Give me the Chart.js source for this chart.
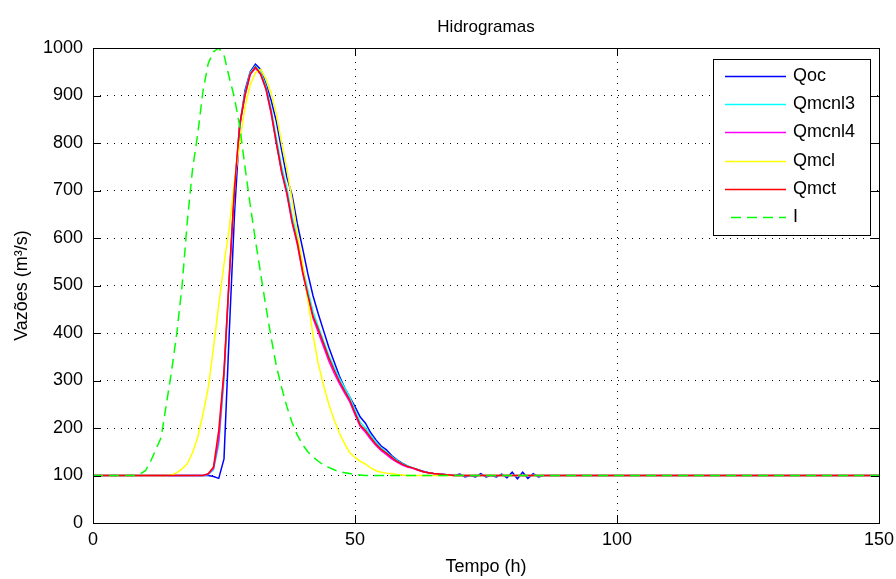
<!DOCTYPE html>
<html>
<head>
<meta charset="utf-8">
<title>Hidrogramas</title>
<script src="https://cdn.jsdelivr.net/npm/chart.js@4.4.1/dist/chart.umd.min.js"></script>
<style>
  html, body { margin: 0; padding: 0; background: #ffffff; }
  #wrap { width: 896px; height: 579px; }
</style>
</head>
<body>
<div id="wrap"><canvas id="hidro" width="896" height="579"></canvas></div>
<script>
// Tempo (h) - grade comum a todas as séries
const tempo = [0,
  8, 9, 10, 11, 12, 13, 14, 15, 16, 17,
  18, 19, 20, 21, 22, 23, 24, 25, 26, 27,
  28, 29, 30, 31, 32, 33, 34, 35, 36, 37,
  38, 39, 40, 41, 42, 43, 44, 45, 46, 47,
  48, 49, 50, 51, 52, 53, 54, 55, 56, 57,
  58, 59, 60, 61, 62, 63, 64, 65, 66, 67,
  68, 69, 70, 71, 72, 73, 74, 75, 76, 77,
  78, 79, 80, 81, 82, 83, 84, 85, 86, 87,
  88, 90, 150];

// Vazões (m³/s)
const qoc = [100,
  100, 100, 100, 100, 100, 100, 100, 100, 100, 100,
  100, 100, 100, 100, 100, 98, 94, 135, 400, 650,
  834, 910, 950, 966, 955, 925, 890, 845, 785, 728,
  690, 630, 578, 525, 478, 440, 405, 370, 340, 310,
  285, 265, 245, 223, 210, 190, 175, 162, 154, 142,
  133, 126, 120, 116, 112, 109, 106, 104, 103, 102,
  101, 100, 103, 97, 100, 97, 104, 97, 100, 97,
  103, 95, 107, 93, 107, 94, 104, 97, 100, 100,
  100, 100, 100];

const qmcnl3 = [100,
  100, 100, 100, 100, 100, 100, 100, 100, 100, 100,
  100, 100, 100, 100, 102, 112, 165, 300, 510, 700,
  840, 905, 948, 962, 950, 920, 872, 810, 750, 705,
  645, 600, 540, 490, 445, 413, 383, 353, 328, 305,
  285, 265, 238, 212, 200, 185, 170, 158, 149, 140,
  132, 125, 120, 116, 112, 108, 106, 104, 103, 102,
  101, 100, 100, 100, 100, 100, 100, 100, 100, 100,
  100, 100, 100, 100, 100, 100, 100, 100, 100, 100,
  100, 100, 100];

const qmcnl4 = [100,
  100, 100, 100, 100, 100, 100, 100, 100, 100, 100,
  100, 100, 100, 100, 103, 115, 175, 315, 515, 700,
  838, 900, 944, 958, 944, 913, 862, 798, 738, 692,
  632, 586, 527, 477, 431, 401, 371, 341, 316, 294,
  274, 255, 228, 203, 191, 176, 163, 152, 144, 135,
  128, 122, 118, 115, 111, 108, 106, 104, 103, 102,
  101, 100, 100, 100, 100, 100, 100, 100, 100, 100,
  100, 100, 100, 100, 100, 100, 100, 100, 100, 100,
  100, 100, 100];

const qmcl = [100,
  100, 100, 100, 100, 100, 100, 100, 101, 106, 114,
  125, 148, 181, 230, 285, 370, 460, 545, 620, 720,
  800, 876, 922, 948, 955, 935, 905, 860, 800, 745,
  680, 610, 545, 470, 395, 335, 290, 250, 218, 190,
  167, 148, 138, 130, 124, 116, 110, 107, 105, 104,
  102, 101, 100, 100, 100, 100, 100, 100, 100, 100,
  100, 100, 100, 100, 100, 100, 100, 100, 100, 100,
  100, 100, 100, 100, 100, 100, 100, 100, 100, 100,
  100, 100, 100];

const qmct = [100,
  100, 100, 100, 100, 100, 100, 100, 100, 100, 100,
  100, 100, 100, 100, 104, 118, 195, 320, 520, 705,
  840, 900, 945, 960, 945, 915, 865, 800, 740, 695,
  635, 590, 530, 480, 435, 408, 378, 348, 322, 299,
  278, 259, 232, 206, 195, 180, 166, 155, 147, 138,
  130, 124, 119, 116, 112, 108, 106, 104, 103, 102,
  101, 100, 100, 100, 100, 100, 100, 100, 100, 100,
  100, 100, 100, 100, 100, 100, 100, 100, 100, 100,
  100, 100, 100];

const entrada = [100,
  100, 103, 110, 130, 155, 180, 250, 320, 400, 500,
  635, 745, 820, 910, 968, 992, 1000, 985, 938, 895,
  835, 750, 670, 595, 525, 455, 390, 330, 285, 245,
  211, 185, 165, 150, 139, 130, 122, 117, 112, 108,
  106, 104, 102, 101, 100, 100, 100, 100, 100, 100,
  100, 100, 100, 100, 100, 100, 100, 100, 100, 100,
  100, 100, 100, 100, 100, 100, 100, 100, 100, 100,
  100, 100, 100, 100, 100, 100, 100, 100, 100, 100,
  100, 100, 100];

const nomes = ['Qoc', 'Qmcnl3', 'Qmcnl4', 'Qmcl', 'Qmct', 'I'];
const ticksX = [0, 50, 100, 150];
const ticksY = [0, 100, 200, 300, 400, 500, 600, 700, 800, 900, 1000];

const fonte = 'Liberation Sans, Arial, sans-serif';

// Monta os pontos {x, y} de uma série
function pontos(valores) {
  return tempo.map((t, i) => ({ x: t, y: valores[i] }));
}

// Moldura, marcas internas, título e legenda (estilo MATLAB)
const molduraPlugin = {
  id: 'moldura',
  afterDraw(chart) {
    const ctx = chart.ctx;
    const a = chart.chartArea;
    const sx = chart.scales.x;
    const sy = chart.scales.y;

    ctx.save();
    ctx.strokeStyle = '#000';
    ctx.lineWidth = 1;
    ctx.setLineDash([]);

    // marcas internas
    ctx.beginPath();
    ticksX.forEach(v => {
      const px = Math.round(sx.getPixelForValue(v)) + 0.5;
      ctx.moveTo(px, a.bottom); ctx.lineTo(px, a.bottom - 8);
      ctx.moveTo(px, a.top); ctx.lineTo(px, a.top + 8);
    });
    ticksY.forEach(v => {
      const py = Math.round(sy.getPixelForValue(v)) + 0.5;
      ctx.moveTo(a.left, py); ctx.lineTo(a.left + 8, py);
      ctx.moveTo(a.right, py); ctx.lineTo(a.right - 8, py);
    });
    ctx.stroke();

    // caixa dos eixos
    ctx.strokeRect(Math.round(a.left) + 0.5, Math.round(a.top) + 0.5,
      Math.round(a.right - a.left), Math.round(a.bottom - a.top));

    // título
    ctx.fillStyle = '#000';
    ctx.font = '17px ' + fonte;
    ctx.textAlign = 'center';
    ctx.textBaseline = 'middle';
    ctx.fillText('Hidrogramas', (a.left + a.right) / 2, 27);

    // legenda
    const lx = 713, ly = 59, lw = 157, lh = 176;
    ctx.fillStyle = '#fff';
    ctx.fillRect(lx, ly, lw, lh);
    ctx.strokeRect(lx + 0.5, ly + 0.5, lw, lh);
    ctx.font = '18px ' + fonte;
    ctx.textAlign = 'left';
    chart.data.datasets.forEach((ds, i) => {
      const y = Math.round(ly + 17 + i * 28.2) + 0.5;
      ctx.strokeStyle = ds.borderColor;
      ctx.lineWidth = 1.5;
      ctx.setLineDash(ds.borderDash || []);
      ctx.beginPath();
      ctx.moveTo(i === 5 ? 731 : 725, y);
      ctx.lineTo(786, y);
      ctx.stroke();
      ctx.fillStyle = '#000';
      ctx.fillText(ds.label, 793, y);
    });
    ctx.restore();
  }
};

const ctx = document.getElementById('hidro').getContext('2d');

const grafico = new Chart(ctx, {
  type: 'line',
  data: {
    datasets: [
      { label: nomes[0], data: pontos(qoc), borderColor: '#0000ff', order: 6 },
      { label: nomes[1], data: pontos(qmcnl3), borderColor: '#00ffff', order: 5 },
      { label: nomes[2], data: pontos(qmcnl4), borderColor: '#ff00ff', order: 4 },
      { label: nomes[3], data: pontos(qmcl), borderColor: '#ffff00', order: 3 },
      { label: nomes[4], data: pontos(qmct), borderColor: '#ff0000', order: 2 },
      { label: nomes[5], data: pontos(entrada), borderColor: '#00ff00', borderDash: [10, 6], order: 1 }
    ]
  },
  options: {
    responsive: false,
    animation: false,
    devicePixelRatio: 1,
    layout: { padding: { top: 48, right: 17, left: 0, bottom: 0 } },
    elements: {
      line: { borderWidth: 1.5, tension: 0, fill: false },
      point: { radius: 0 }
    },
    plugins: {
      legend: { display: false },
      title: { display: false },
      tooltip: { enabled: false }
    },
    scales: {
      x: {
        type: 'linear',
        min: 0,
        max: 150,
        afterFit: s => { s.height = 56; s.paddingLeft = 0; s.paddingRight = 0; },
        afterBuildTicks: s => { s.ticks = ticksX.map(v => ({ value: v })); },
        ticks: { color: '#000', font: { family: fonte, size: 18 }, padding: 6, maxRotation: 0,
          callback: v => String(v) },
        grid: { color: '#000', lineWidth: 1, drawTicks: false },
        border: { display: false, dash: [1, 6] },
        title: { display: true, text: 'Tempo (h)', color: '#000', font: { family: fonte, size: 18 }, padding: { top: 0, bottom: 1 } }
      },
      y: {
        type: 'linear',
        min: 0,
        max: 1000,
        afterFit: s => { s.width = 93; s.paddingTop = 0; s.paddingBottom = 0; },
        afterBuildTicks: s => { s.ticks = ticksY.map(v => ({ value: v })); },
        ticks: { color: '#000', font: { family: fonte, size: 18 }, padding: 10,
          callback: v => String(v) },
        grid: { color: '#000', lineWidth: 1, drawTicks: false },
        border: { display: false, dash: [1, 6] },
        title: { display: true, text: 'Vazões (m³/s)', color: '#000', font: { family: fonte, size: 18 }, padding: { top: 11, bottom: 0 } }
      }
    }
  },
  plugins: [molduraPlugin]
});
</script>
</body>
</html>
